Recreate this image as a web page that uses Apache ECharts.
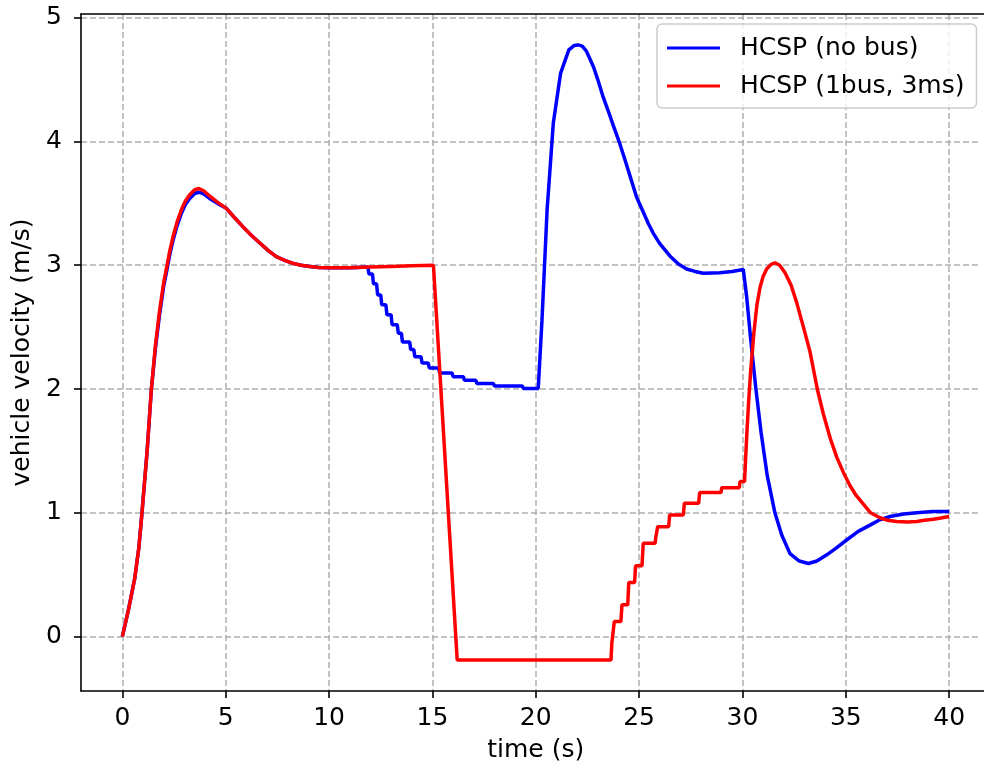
<!DOCTYPE html>
<html>
<head>
<meta charset="utf-8">
<script src="https://cdn.jsdelivr.net/npm/echarts@6/dist/echarts.min.js"></script>
<style>
  html, body { margin: 0; padding: 0; background: #fff; overflow: hidden; }
  #chart { width: 984px; height: 768px; }
</style>
</head>
<body>
<div id="chart"></div>
<script>
// Vehicle velocity traces: HCSP without bus vs. HCSP over one bus with 3 ms period.
const noBusTime = [
  0, 0.3, 0.6, 0.8, 0.95, 1.2, 1.4, 1.6, 1.8, 2.0, 2.13, 2.3, 2.45, 2.65, 2.86, 3.05, 3.26, 3.5, 3.71, 3.95, 4.22, 4.6, 5.03, 5.4,
  5.84, 6.25, 6.65, 7.05, 7.45, 7.85, 8.26, 8.65, 9.07, 9.5, 10.0, 11.0, 11.88,
  11.93, 12.1, 12.15, 12.3, 12.35, 12.5, 12.55, 12.75, 12.8, 13.0, 13.05, 13.3, 13.35, 13.5, 13.55, 13.9, 13.95, 14.1, 14.15,
  14.45, 14.5, 14.8, 14.85, 15.3, 15.35, 15.95, 16.0, 16.5, 16.55, 17.1, 17.15, 17.95, 18.0, 19.35, 19.4, 20.12,
  20.3, 20.55, 20.85, 21.2, 21.6, 21.85, 22.05, 22.25, 22.45, 22.8, 23.0, 23.26, 23.5, 23.75, 24.07, 24.3, 24.6, 24.88, 25.2,
  25.45, 25.68, 26.0, 26.49, 26.9, 27.3, 27.7, 28.1, 28.9, 29.5, 30.04,
  30.2, 30.4, 30.65, 30.9, 31.2, 31.57, 31.9, 32.3, 32.75, 33.19, 33.6, 34.08, 34.5, 35.04, 35.6, 36.17, 36.6, 37.14, 37.8,
  38.43, 39.2, 40.0
];
const noBusVelocity = [
  0, 0.22, 0.47, 0.72, 1.0, 1.5, 1.99, 2.33, 2.6, 2.83, 2.94, 3.09, 3.2, 3.32, 3.42, 3.49, 3.54, 3.58, 3.59, 3.575, 3.54, 3.5, 3.46, 3.39,
  3.31, 3.24, 3.18, 3.12, 3.07, 3.04, 3.015, 3.0, 2.99, 2.982, 2.98, 2.98, 2.985,
  2.93, 2.93, 2.85, 2.85, 2.76, 2.76, 2.68, 2.68, 2.6, 2.6, 2.52, 2.52, 2.45, 2.45, 2.38, 2.38, 2.32, 2.32, 2.26,
  2.26, 2.21, 2.21, 2.17, 2.17, 2.13, 2.13, 2.1, 2.1, 2.07, 2.07, 2.045, 2.045, 2.025, 2.025, 2.005, 2.005,
  2.55, 3.45, 4.15, 4.55, 4.74, 4.775, 4.78, 4.77, 4.73, 4.6, 4.5, 4.36, 4.25, 4.13, 3.98, 3.86, 3.7, 3.55, 3.43,
  3.335, 3.26, 3.175, 3.075, 3.01, 2.97, 2.95, 2.935, 2.94, 2.95, 2.966,
  2.75, 2.4, 2.0, 1.65, 1.3, 1.0, 0.82, 0.67, 0.61, 0.59, 0.61, 0.66, 0.71, 0.78, 0.85, 0.9, 0.94, 0.97, 0.99,
  1.0, 1.01, 1.01
];
const busTime = [
  0, 0.3, 0.6, 0.8, 0.95, 1.2, 1.4, 1.6, 1.8, 2.0, 2.13, 2.3, 2.45, 2.65, 2.86, 3.05, 3.26, 3.5, 3.71, 3.95, 4.22, 4.6, 5.03, 5.4,
  5.84, 6.25, 6.65, 7.05, 7.45, 7.85, 8.26, 8.65, 9.07, 9.5, 10.0, 11.0, 12.0, 13.0, 14.0, 15.05,
  16.2, 23.64, 23.68, 23.75, 23.8, 24.12, 24.17, 24.45, 24.5, 24.78, 24.83, 25.14, 25.2, 25.78, 25.8, 25.86, 25.9, 26.43, 26.48,
  27.14, 27.19, 27.88, 27.93, 28.96, 29.0, 29.85, 29.88, 30.1,
  30.2, 30.3, 30.4, 30.55, 30.7, 30.85, 31.0, 31.17, 31.37, 31.57, 31.8, 32.06, 32.35, 32.62, 32.95, 33.27, 33.62, 33.91, 34.25,
  34.56, 34.9, 35.2, 35.5, 35.85, 36.2, 36.65, 37.0, 37.46, 38.0, 38.43, 38.8, 39.24, 39.6, 40.0
];
const busVelocity = [
  0, 0.22, 0.47, 0.72, 1.0, 1.5, 1.99, 2.35, 2.63, 2.86, 2.97, 3.12, 3.23, 3.35, 3.45, 3.52, 3.57, 3.61, 3.62, 3.6, 3.56, 3.51, 3.46, 3.39,
  3.31, 3.24, 3.18, 3.12, 3.07, 3.04, 3.015, 3.0, 2.99, 2.982, 2.98, 2.98, 2.985, 2.99, 2.995, 3.0,
  -0.19, -0.19, -0.054, -0.054, 0.121, 0.121, 0.256, 0.256, 0.436, 0.436, 0.571, 0.571, 0.754, 0.754, 0.794, 0.794, 0.888, 0.888, 0.983,
  0.983, 1.077, 1.077, 1.163, 1.163, 1.203, 1.203, 1.252, 1.252,
  1.6, 1.9, 2.15, 2.45, 2.68, 2.82, 2.91, 2.97, 3.005, 3.02, 3.0, 2.94, 2.84, 2.7, 2.5, 2.3, 2.0, 1.8, 1.6,
  1.45, 1.32, 1.22, 1.14, 1.07, 1.0, 0.96, 0.94, 0.93, 0.925, 0.93, 0.94, 0.948, 0.958, 0.97
];
const xTicks = [0, 5, 10, 15, 20, 25, 30, 35, 40];
const yTicks = [0, 1, 2, 3, 4, 5];
const seriesNames = ['HCSP (no bus)', 'HCSP (1bus, 3ms)'];

const pairs = (xs, ys) => xs.map((x, i) => [x, ys[i]]);

const FONT = '"DejaVu Sans", sans-serif';
const text = () => ({ fontFamily: FONT, fontSize: 25, color: '#000' });
const gridLine = () => ({ show: true, lineStyle: { color: '#b0b0b0', width: 1.5, type: [6, 3] } });
const frame = () => ({ show: true, onZero: false, lineStyle: { color: '#000', width: 1.6 } });
const ticks = values => ({ show: true, customValues: values, length: 7, lineStyle: { color: '#000', width: 1.6 } });

const chart = echarts.init(document.getElementById('chart'), null, { renderer: 'canvas' });
chart.setOption({
  animation: false,
  backgroundColor: '#fff',
  grid: { left: 81, right: -6.5, top: 14, bottom: 77, containLabel: false, outerBoundsMode: 'none' },
  // the plot frame runs past the right edge of the page; keep that edge open
  graphic: [{
    type: 'rect', silent: true, z: 100,
    shape: { x: 980.5, y: 15.5, width: 4, height: 674 },
    style: { fill: '#fff' }
  }],
  legend: {
    data: seriesNames,
    orient: 'vertical',
    left: 657, top: 24,
    padding: [10, 12, 8, 10],
    itemGap: 10,
    itemWidth: 53, itemHeight: 3,
    icon: 'rect',
    backgroundColor: 'rgba(255,255,255,0.8)',
    borderColor: '#cccccc', borderWidth: 1.5, borderRadius: 5,
    textStyle: Object.assign(text(), { lineHeight: 28, padding: [0, 0, 0, 15] })
  },
  xAxis: [{
    type: 'value', min: -2, max: 42, minInterval: 5, maxInterval: 5,
    name: 'time (s)', nameLocation: 'middle', nameGap: 47,
    nameTextStyle: text(),
    axisLine: frame(),
    axisTick: ticks(xTicks),
    axisLabel: Object.assign(text(), { customValues: xTicks, margin: 15 }),
    splitLine: gridLine()
  }, {
    // top edge of the frame
    type: 'value', position: 'top', min: -2, max: 42,
    axisLine: frame(), axisTick: { show: false }, axisLabel: { show: false }, splitLine: { show: false }
  }],
  yAxis: {
    type: 'value', min: -0.44, max: 5.03, minInterval: 1, maxInterval: 1,
    name: 'vehicle velocity (m/s)', nameLocation: 'middle', nameGap: 46, nameRotate: 90,
    nameTextStyle: text(),
    axisLine: frame(),
    axisTick: ticks(yTicks),
    axisLabel: Object.assign(text(), { customValues: yTicks, margin: 19 }),
    splitLine: gridLine()
  },
  series: [
    { name: seriesNames[0], type: 'line', data: pairs(noBusTime, noBusVelocity), symbol: 'none',
      lineStyle: { color: '#0000ff', width: 3.5 }, itemStyle: { color: '#0000ff' } },
    { name: seriesNames[1], type: 'line', data: pairs(busTime, busVelocity), symbol: 'none',
      lineStyle: { color: '#ff0000', width: 3.5 }, itemStyle: { color: '#ff0000' } }
  ]
});
</script>
</body>
</html>
